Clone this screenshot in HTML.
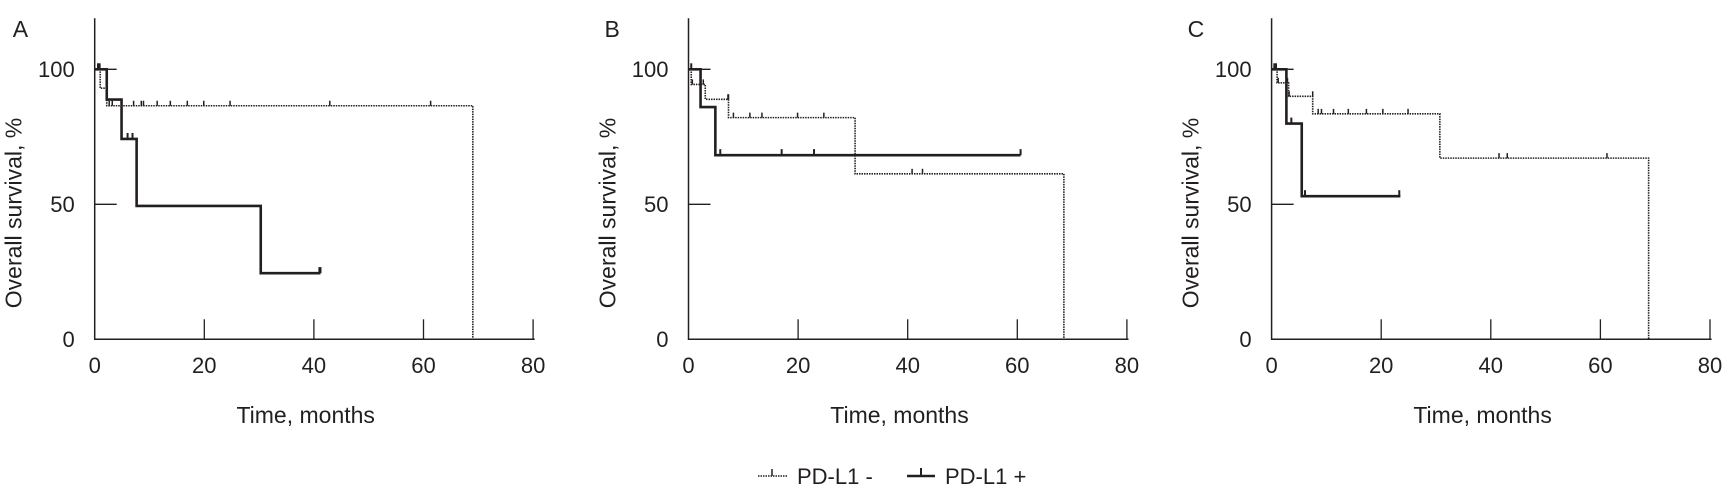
<!DOCTYPE html>
<html><head><meta charset="utf-8"><style>
html,body{margin:0;padding:0;background:#fff;}
svg{display:block;font-family:"Liberation Sans",sans-serif;fill:#231f20;}
</style></head><body>
<svg id="s" width="1731" height="499" viewBox="0 0 1731 499" xmlns="http://www.w3.org/2000/svg">
<g id="pA" transform="translate(94.7,0)">
<text x="-82" y="37" font-size="23">A</text>
<text transform="translate(-73,213) rotate(-90)" text-anchor="middle" font-size="23">Overall survival, %</text>
<text x="-20" y="77" text-anchor="end" font-size="22">100</text>
<text x="-20" y="212" text-anchor="end" font-size="22">50</text>
<text x="-20" y="347" text-anchor="end" font-size="22">0</text>
<text x="0" y="373" text-anchor="middle" font-size="22">0</text>
<text x="109.6" y="373" text-anchor="middle" font-size="22">20</text>
<text x="219.2" y="373" text-anchor="middle" font-size="22">40</text>
<text x="328.8" y="373" text-anchor="middle" font-size="22">60</text>
<text x="438.4" y="373" text-anchor="middle" font-size="22">80</text>
<text x="211" y="423" text-anchor="middle" font-size="23">Time, months</text>
</g>
<g id="pB" transform="translate(688.5,0)">
<text x="-84" y="37" font-size="23">B</text>
<text transform="translate(-73,213) rotate(-90)" text-anchor="middle" font-size="23">Overall survival, %</text>
<text x="-20" y="77" text-anchor="end" font-size="22">100</text>
<text x="-20" y="212" text-anchor="end" font-size="22">50</text>
<text x="-20" y="347" text-anchor="end" font-size="22">0</text>
<text x="0" y="373" text-anchor="middle" font-size="22">0</text>
<text x="109.6" y="373" text-anchor="middle" font-size="22">20</text>
<text x="219.2" y="373" text-anchor="middle" font-size="22">40</text>
<text x="328.8" y="373" text-anchor="middle" font-size="22">60</text>
<text x="438.4" y="373" text-anchor="middle" font-size="22">80</text>
<text x="211" y="423" text-anchor="middle" font-size="23">Time, months</text>
</g>
<g id="pC" transform="translate(1271.6,0)">
<text x="-84" y="37" font-size="23">C</text>
<text transform="translate(-73,213) rotate(-90)" text-anchor="middle" font-size="23">Overall survival, %</text>
<text x="-20" y="77" text-anchor="end" font-size="22">100</text>
<text x="-20" y="212" text-anchor="end" font-size="22">50</text>
<text x="-20" y="347" text-anchor="end" font-size="22">0</text>
<text x="0" y="373" text-anchor="middle" font-size="22">0</text>
<text x="109.6" y="373" text-anchor="middle" font-size="22">20</text>
<text x="219.2" y="373" text-anchor="middle" font-size="22">40</text>
<text x="328.8" y="373" text-anchor="middle" font-size="22">60</text>
<text x="438.4" y="373" text-anchor="middle" font-size="22">80</text>
<text x="211" y="423" text-anchor="middle" font-size="23">Time, months</text>
</g>
<line x1="758" y1="476" x2="787" y2="476" stroke="#231f20" stroke-width="1.6" stroke-dasharray="1.5 1"/>
<line x1="772" y1="476" x2="772" y2="469" stroke="#231f20" stroke-width="1.5"/>
<text x="797" y="484" font-size="22">PD-L1 -</text>
<line x1="907" y1="476" x2="935" y2="476" stroke="#231f20" stroke-width="2.5"/>
<line x1="921" y1="476" x2="921" y2="468" stroke="#231f20" stroke-width="2"/>
<text x="945" y="484" font-size="22">PD-L1 +</text>
</svg>
<script>
var NS="http://www.w3.org/2000/svg";
function X(m){return m*5.48;}function Y(p){return 339.3-2.7*p;}
function el(g,t,a){var e=document.createElementNS(NS,t);for(var k in a)e.setAttribute(k,a[k]);g.appendChild(e);return e;}
function axes(g){
 el(g,"path",{d:"M0,18.3 V339.3 H440",fill:"none",stroke:"#231f20","stroke-width":1.5});
 [Y(100),Y(50)].forEach(function(y){el(g,"line",{x1:0,y1:y,x2:22,y2:y,stroke:"#231f20","stroke-width":1.3});});
 [109.6,219.2,328.8,438.4].forEach(function(x){el(g,"line",{x1:x,y1:319.3,x2:x,y2:339.3,stroke:"#231f20","stroke-width":1.3});});
}
function curve(g,steps,ticks,solid){
 var d="M0,"+Y(100);
 steps.forEach(function(s){d+=" H"+X(s[0])+" V"+Y(s[1]);});
 d+=" H"+X(steps.end);
 if(steps.drop)d+=" V339.3";
 var st=solid?{stroke:"#231f20","stroke-width":2.6}:{stroke:"#231f20","stroke-width":1.6,"stroke-dasharray":"1.5 1"};
 var a={d:d,fill:"none"};for(var k in st)a[k]=st[k];el(g,"path",a);
 ticks.forEach(function(t){var y=Y(t[1]);el(g,"line",{x1:X(t[0]),y1:y,x2:X(t[0]),y2:y-(solid?6:5),stroke:"#231f20","stroke-width":solid?2:1.5});});
}
function mk(steps,end,drop){steps.end=end;steps.drop=drop;return steps;}
var A=document.getElementById("pA"),B=document.getElementById("pB"),C=document.getElementById("pC");
[A,B,C].forEach(axes);
curve(A,mk([[1.0,93],[2.2,86.5]],69,true),
 [[2.65,86.5],[3.2,86.5],[7.1,86.5],[8.5,86.5],[8.9,86.5],[11.4,86.5],[13.8,86.5],[16.9,86.5],[19.9,86.5],[24.7,86.5],[42.9,86.5],[61.3,86.5]],false);
curve(A,mk([[2.2,88.8],[4.9,74.2],[7.65,49.4],[30.3,24.5]],41.2,false),
 [[0.6,100],[0.9,100],[6.0,74.2],[6.9,74.2],[41,24.5],[41.2,24.5]],true);
curve(B,mk([[0.5,94.4],[3.06,88.9],[7.3,82.1],[30.4,61.3]],68.5,true),
 [[0.7,94.4],[2.7,94.4],[7.2,88.9],[7.3,88.9],[8.2,82.1],[11.2,82.1],[13.4,82.1],[19.9,82.1],[24.7,82.1],[40.8,61.3],[42.7,61.3]],false);
curve(B,mk([[2.2,86],[4.9,68.2]],60.6,false),
 [[0.5,100],[5.8,68.2],[17,68.2],[22.9,68.2],[60.6,68.2]],true);
curve(C,mk([[1.0,95],[3.1,90],[7.5,83.5],[30.7,67.1]],68.8,true),
 [[1.2,95],[2.9,95],[3.2,90],[7.5,90],[8.5,83.5],[9.1,83.5],[11.3,83.5],[14,83.5],[17.3,83.5],[20.3,83.5],[24.9,83.5],[41.5,67.1],[43,67.1],[61.2,67.1]],false);
curve(C,mk([[2.7,79.9],[5.5,53]],23.5,false),
 [[0.5,100],[0.8,100],[3.6,79.9],[6.1,53],[23.3,53]],true);
</script>
</body></html>
